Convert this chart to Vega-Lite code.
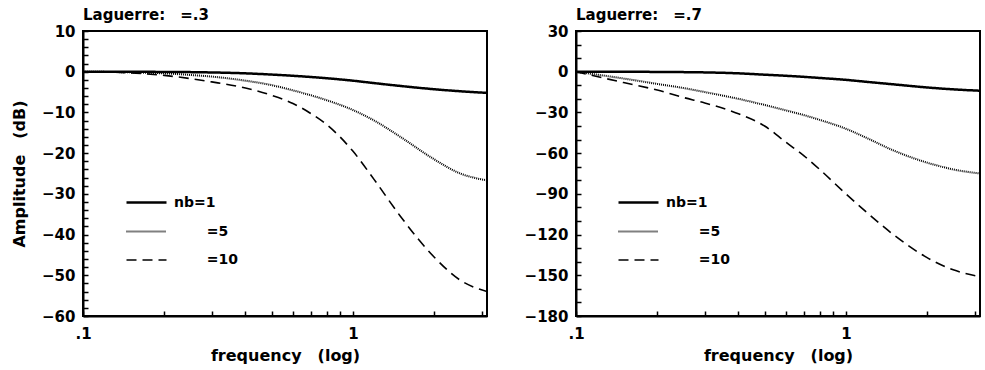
{
  "$schema": "https://vega.github.io/schema/vega-lite/v6.json",
  "background": "white",
  "padding": {"left": 10, "top": 7, "right": 2, "bottom": 2},
  "config": {
    "font": "DejaVu Sans",
    "view": {"stroke": "black", "strokeWidth": 2},
    "axis": {
      "domainColor": "black", "domainWidth": 2,
      "tickColor": "black", "tickWidth": 1.5, "tickSize": -5, "tickCount": 100,
      "labelPadding": 13, "labelFont": "DejaVu Sans", "labelFontSize": 15, "labelFontWeight": "bold", "labelColor": "black",
      "labelOverlap": false, "labelBound": false, "labelFlush": false,
      "titleFont": "DejaVu Sans", "titleFontSize": 16, "titleFontWeight": "bold", "titleColor": "black",
      "grid": false
    },
    "legend": {
      "labelFont": "DejaVu Sans", "labelFontSize": 14, "labelFontWeight": "bold", "labelColor": "black",
      "symbolType": "stroke", "symbolSize": 1600, "symbolStrokeColor": "black", "labelOffset": 6, "rowPadding": -11
    },
    "title": {"font": "DejaVu Sans", "fontSize": 15, "fontWeight": "bold", "color": "black", "anchor": "start", "frame": "group", "offset": 1}
  },
  "datasets": {
    "response": [
      {"a": ".3", "nb": "1", "f": 0.1, "dB": 0}, {"a": ".3", "nb": "1", "f": 0.15, "dB": -0.02}, {"a": ".3", "nb": "1", "f": 0.2, "dB": -0.05}, {"a": ".3", "nb": "1", "f": 0.25, "dB": -0.1},
      {"a": ".3", "nb": "1", "f": 0.3, "dB": -0.18}, {"a": ".3", "nb": "1", "f": 0.4, "dB": -0.4}, {"a": ".3", "nb": "1", "f": 0.5, "dB": -0.7}, {"a": ".3", "nb": "1", "f": 0.6, "dB": -1.0},
      {"a": ".3", "nb": "1", "f": 0.7, "dB": -1.3}, {"a": ".3", "nb": "1", "f": 0.8, "dB": -1.6}, {"a": ".3", "nb": "1", "f": 1.0, "dB": -2.2}, {"a": ".3", "nb": "1", "f": 1.2, "dB": -2.8},
      {"a": ".3", "nb": "1", "f": 1.5, "dB": -3.5}, {"a": ".3", "nb": "1", "f": 2.0, "dB": -4.3}, {"a": ".3", "nb": "1", "f": 2.5, "dB": -4.8}, {"a": ".3", "nb": "1", "f": 3.14159, "dB": -5.2},

      {"a": ".3", "nb": "5", "f": 0.1, "dB": 0}, {"a": ".3", "nb": "5", "f": 0.15, "dB": -0.15}, {"a": ".3", "nb": "5", "f": 0.2, "dB": -0.4}, {"a": ".3", "nb": "5", "f": 0.25, "dB": -0.8},
      {"a": ".3", "nb": "5", "f": 0.3, "dB": -1.2}, {"a": ".3", "nb": "5", "f": 0.4, "dB": -2.2}, {"a": ".3", "nb": "5", "f": 0.5, "dB": -3.3}, {"a": ".3", "nb": "5", "f": 0.6, "dB": -4.6},
      {"a": ".3", "nb": "5", "f": 0.7, "dB": -5.8}, {"a": ".3", "nb": "5", "f": 0.8, "dB": -7.0}, {"a": ".3", "nb": "5", "f": 1.0, "dB": -9.4}, {"a": ".3", "nb": "5", "f": 1.2, "dB": -12.0},
      {"a": ".3", "nb": "5", "f": 1.5, "dB": -16.0}, {"a": ".3", "nb": "5", "f": 2.0, "dB": -21.5}, {"a": ".3", "nb": "5", "f": 2.5, "dB": -25.0}, {"a": ".3", "nb": "5", "f": 3.14159, "dB": -26.7},

      {"a": ".3", "nb": "10", "f": 0.1, "dB": 0}, {"a": ".3", "nb": "10", "f": 0.15, "dB": -0.3}, {"a": ".3", "nb": "10", "f": 0.2, "dB": -0.9}, {"a": ".3", "nb": "10", "f": 0.25, "dB": -1.7},
      {"a": ".3", "nb": "10", "f": 0.3, "dB": -2.5}, {"a": ".3", "nb": "10", "f": 0.4, "dB": -4.0}, {"a": ".3", "nb": "10", "f": 0.5, "dB": -5.8}, {"a": ".3", "nb": "10", "f": 0.6, "dB": -7.8},
      {"a": ".3", "nb": "10", "f": 0.7, "dB": -10.3}, {"a": ".3", "nb": "10", "f": 0.8, "dB": -13.0}, {"a": ".3", "nb": "10", "f": 1.0, "dB": -19.5}, {"a": ".3", "nb": "10", "f": 1.2, "dB": -26.5},
      {"a": ".3", "nb": "10", "f": 1.5, "dB": -35.5}, {"a": ".3", "nb": "10", "f": 2.0, "dB": -45.5}, {"a": ".3", "nb": "10", "f": 2.5, "dB": -51.2}, {"a": ".3", "nb": "10", "f": 3.14159, "dB": -54.0},

      {"a": ".7", "nb": "1", "f": 0.1, "dB": 0}, {"a": ".7", "nb": "1", "f": 0.15, "dB": -0.05}, {"a": ".7", "nb": "1", "f": 0.2, "dB": -0.15}, {"a": ".7", "nb": "1", "f": 0.25, "dB": -0.3},
      {"a": ".7", "nb": "1", "f": 0.3, "dB": -0.5}, {"a": ".7", "nb": "1", "f": 0.4, "dB": -1.2}, {"a": ".7", "nb": "1", "f": 0.5, "dB": -2.2}, {"a": ".7", "nb": "1", "f": 0.6, "dB": -3.0},
      {"a": ".7", "nb": "1", "f": 0.7, "dB": -3.8}, {"a": ".7", "nb": "1", "f": 0.8, "dB": -4.6}, {"a": ".7", "nb": "1", "f": 1.0, "dB": -6.0}, {"a": ".7", "nb": "1", "f": 1.2, "dB": -7.5},
      {"a": ".7", "nb": "1", "f": 1.5, "dB": -9.3}, {"a": ".7", "nb": "1", "f": 2.0, "dB": -11.6}, {"a": ".7", "nb": "1", "f": 2.5, "dB": -13.0}, {"a": ".7", "nb": "1", "f": 3.14159, "dB": -14.0},

      {"a": ".7", "nb": "5", "f": 0.1, "dB": 0}, {"a": ".7", "nb": "5", "f": 0.15, "dB": -5.0}, {"a": ".7", "nb": "5", "f": 0.2, "dB": -9.0}, {"a": ".7", "nb": "5", "f": 0.25, "dB": -12.0},
      {"a": ".7", "nb": "5", "f": 0.3, "dB": -15.0}, {"a": ".7", "nb": "5", "f": 0.4, "dB": -20.0}, {"a": ".7", "nb": "5", "f": 0.5, "dB": -24.5}, {"a": ".7", "nb": "5", "f": 0.6, "dB": -28.5},
      {"a": ".7", "nb": "5", "f": 0.7, "dB": -32.0}, {"a": ".7", "nb": "5", "f": 0.8, "dB": -35.5}, {"a": ".7", "nb": "5", "f": 1.0, "dB": -42.0}, {"a": ".7", "nb": "5", "f": 1.2, "dB": -49.0},
      {"a": ".7", "nb": "5", "f": 1.5, "dB": -58.0}, {"a": ".7", "nb": "5", "f": 2.0, "dB": -67.0}, {"a": ".7", "nb": "5", "f": 2.5, "dB": -72.0}, {"a": ".7", "nb": "5", "f": 3.14159, "dB": -75.0},

      {"a": ".7", "nb": "10", "f": 0.1, "dB": 0}, {"a": ".7", "nb": "10", "f": 0.15, "dB": -8}, {"a": ".7", "nb": "10", "f": 0.2, "dB": -13.5}, {"a": ".7", "nb": "10", "f": 0.25, "dB": -19},
      {"a": ".7", "nb": "10", "f": 0.3, "dB": -23}, {"a": ".7", "nb": "10", "f": 0.4, "dB": -31}, {"a": ".7", "nb": "10", "f": 0.5, "dB": -40}, {"a": ".7", "nb": "10", "f": 0.6, "dB": -52},
      {"a": ".7", "nb": "10", "f": 0.7, "dB": -62}, {"a": ".7", "nb": "10", "f": 0.8, "dB": -72}, {"a": ".7", "nb": "10", "f": 1.0, "dB": -90}, {"a": ".7", "nb": "10", "f": 1.2, "dB": -104},
      {"a": ".7", "nb": "10", "f": 1.5, "dB": -120}, {"a": ".7", "nb": "10", "f": 2.0, "dB": -137}, {"a": ".7", "nb": "10", "f": 2.5, "dB": -146}, {"a": ".7", "nb": "10", "f": 3.14159, "dB": -151}
    ]
  },
  "hconcat": [
    {
      "width": 404, "height": 285,
      "title": {"text": "Laguerre:\u2003=.3"},
      "layer": [
        {"mark": {"type": "rule", "color": "black", "strokeWidth": 2}, "encoding": {"y": {"datum": 0}}},
        {
          "data": {"name": "response"},
          "transform": [{"filter": "datum.a === '.3'"}],
          "mark": {"type": "line", "color": "black", "interpolate": "monotone", "clip": true},
          "encoding": {
            "x": {"field": "f", "type": "quantitative",
                  "scale": {"type": "log", "domain": [0.1, 3.14159], "nice": false},
                  "axis": {"title": "frequency\u2003(log)", "titlePadding": 6, "labelPadding": 15,
                           "values": [0.1, 0.2, 0.3, 0.4, 0.5, 0.6, 0.7, 0.8, 0.9, 1, 2, 3],
                           "labelExpr": "datum.value === 0.1 ? '.1' : (datum.value === 1 ? '1' : '')"}},
            "y": {"field": "dB", "type": "quantitative",
                  "scale": {"domain": [-60, 10], "nice": false},
                  "axis": {"title": "Amplitude\u2003(dB)", "titlePadding": 14, "format": "d",
                           "values": [-60, -58, -56, -54, -52, -50, -48, -46, -44, -42, -40, -38, -36, -34, -32, -30, -28, -26, -24, -22, -20, -18, -16, -14, -12, -10, -8, -6, -4, -2, 0, 2, 4, 6, 8, 10],
                           "labelExpr": "datum.value % 10 === 0 ? datum.label : ''"}},
            "strokeDash": {"field": "nb", "type": "nominal", "sort": ["1", "5", "10"],
                           "scale": {"domain": ["1", "5", "10"], "range": [[1, 0], [1, 1], [10, 6]]},
                           "legend": {"title": null, "orient": "none", "legendX": 42, "legendY": 150,
                                      "labelExpr": "datum.label === '1' ? 'nb=1' : '\u2800\u2800\u2800=' + datum.label"}},
            "strokeWidth": {"field": "nb", "type": "nominal", "sort": ["1", "5", "10"],
                            "scale": {"domain": ["1", "5", "10"], "range": [2.5, 1.6, 2]},
                            "legend": {"title": null, "orient": "none", "legendX": 42, "legendY": 150,
                                       "labelExpr": "datum.label === '1' ? 'nb=1' : '\u2800\u2800\u2800=' + datum.label"}}
          }
        }
      ]
    },
    {
      "width": 404, "height": 285,
      "title": {"text": "Laguerre:\u2003=.7"},
      "layer": [
        {"mark": {"type": "rule", "color": "black", "strokeWidth": 2}, "encoding": {"y": {"datum": 0}}},
        {
          "data": {"name": "response"},
          "transform": [{"filter": "datum.a === '.7'"}],
          "mark": {"type": "line", "color": "black", "interpolate": "monotone", "clip": true},
          "encoding": {
            "x": {"field": "f", "type": "quantitative",
                  "scale": {"type": "log", "domain": [0.1, 3.14159], "nice": false},
                  "axis": {"title": "frequency\u2003(log)", "titlePadding": 6, "labelPadding": 15,
                           "values": [0.1, 0.2, 0.3, 0.4, 0.5, 0.6, 0.7, 0.8, 0.9, 1, 2, 3],
                           "labelExpr": "datum.value === 0.1 ? '.1' : (datum.value === 1 ? '1' : '')"}},
            "y": {"field": "dB", "type": "quantitative",
                  "scale": {"domain": [-180, 30], "nice": false},
                  "axis": {"title": null, "format": "d",
                           "values": [-180, -170, -160, -150, -140, -130, -120, -110, -100, -90, -80, -70, -60, -50, -40, -30, -20, -10, 0, 10, 20, 30],
                           "labelExpr": "datum.value % 30 === 0 ? datum.label : ''"}},
            "strokeDash": {"field": "nb", "type": "nominal", "sort": ["1", "5", "10"],
                           "scale": {"domain": ["1", "5", "10"], "range": [[1, 0], [1, 1], [10, 6]]},
                           "legend": {"title": null, "orient": "none", "legendX": 41, "legendY": 150,
                                      "labelExpr": "datum.label === '1' ? 'nb=1' : '\u2800\u2800\u2800=' + datum.label"}},
            "strokeWidth": {"field": "nb", "type": "nominal", "sort": ["1", "5", "10"],
                            "scale": {"domain": ["1", "5", "10"], "range": [2.5, 1.6, 2]},
                            "legend": {"title": null, "orient": "none", "legendX": 41, "legendY": 150,
                                       "labelExpr": "datum.label === '1' ? 'nb=1' : '\u2800\u2800\u2800=' + datum.label"}}
          }
        }
      ]
    }
  ],
  "spacing": 89,
  "bounds": "flush",
  "resolve": {
    "scale": {"x": "independent", "y": "independent", "strokeDash": "independent", "strokeWidth": "independent"},
    "legend": {"strokeDash": "independent", "strokeWidth": "independent"}
  }
}
